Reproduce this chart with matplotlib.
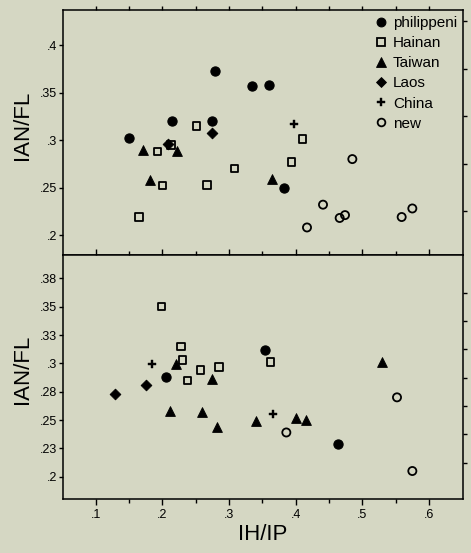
import matplotlib
matplotlib.use("Agg")
import matplotlib.pyplot as plt
from matplotlib.lines import Line2D

plt.rcParams['font.family'] = ['Liberation Sans', 'DejaVu Sans']

BG = '#d5d7c3'

# ---------------- data ----------------
groups = ['philippeni', 'Hainan', 'Taiwan', 'Laos', 'China', 'new']

# top panel
top_phil_x = [0.150, 0.214, 0.279, 0.274, 0.335, 0.360, 0.382]
top_phil_y = [0.302, 0.320, 0.373, 0.320, 0.357, 0.358, 0.250]
top_hain_x = [0.165, 0.193, 0.200, 0.213, 0.251, 0.267, 0.308, 0.394, 0.410]
top_hain_y = [0.219, 0.288, 0.252, 0.295, 0.315, 0.253, 0.270, 0.277, 0.301]
top_taiw_x = [0.171, 0.181, 0.222, 0.365]
top_taiw_y = [0.290, 0.258, 0.289, 0.259]
top_laos_x = [0.209, 0.274]
top_laos_y = [0.296, 0.307]
top_chin_x = [0.398]
top_chin_y = [0.317]
top_new_x = [0.417, 0.441, 0.466, 0.474, 0.485, 0.559, 0.575]
top_new_y = [0.208, 0.232, 0.218, 0.221, 0.280, 0.219, 0.228]

# bottom panel
bot_phil_x = [0.206, 0.354, 0.464]
bot_phil_y = [0.288, 0.312, 0.229]
bot_hain_x = [0.199, 0.228, 0.230, 0.238, 0.257, 0.285, 0.362]
bot_hain_y = [0.350, 0.315, 0.303, 0.285, 0.294, 0.297, 0.301]
bot_taiw_x = [0.220, 0.211, 0.260, 0.275, 0.282, 0.341, 0.401, 0.416, 0.529]
bot_taiw_y = [0.299, 0.258, 0.257, 0.286, 0.244, 0.249, 0.252, 0.250, 0.301]
bot_laos_x = [0.129, 0.176]
bot_laos_y = [0.273, 0.281]
bot_chin_x = [0.184, 0.366]
bot_chin_y = [0.299, 0.255]
bot_new_x = [0.386, 0.552, 0.575]
bot_new_y = [0.239, 0.270, 0.205]

x_ticks = [0.1, 0.2, 0.3, 0.4, 0.5, 0.6]
x_ticklabels = ['.1', '.2', '.3', '.4', '.5', '.6']
top_yticks = [0.2, 0.25, 0.3, 0.35, 0.4]
top_yticklabels = ['.2', '.25', '.3', '.35', '.4']
bot_yticks = [0.2, 0.225, 0.25, 0.275, 0.3, 0.325, 0.35, 0.375]
bot_yticklabels = ['.2', '.23', '.25', '.28', '.3', '.33', '.35', '.38']

# ---------------- styles ----------------
styles = {
    'philippeni': dict(marker='o', s=44, facecolors='black', edgecolors='black', linewidths=0.8),
    'Hainan': dict(marker='s', s=30, facecolors='none', edgecolors='black', linewidths=1.3),
    'Taiwan': dict(marker='^', s=50, facecolors='black', edgecolors='black', linewidths=0.6),
    'Laos': dict(marker='D', s=30, facecolors='black', edgecolors='black', linewidths=0.6),
    'China': dict(marker='P', s=38, facecolors='black', edgecolors='black', linewidths=0.3),
    'new': dict(marker='o', s=34, facecolors='none', edgecolors='black', linewidths=1.3),
}

fig = plt.figure(figsize=(4.71, 5.53), dpi=100, facecolor=BG)
W, H = 471, 553
ax1 = fig.add_axes([63 / W, 1 - 255 / H, 400 / W, 245 / H])
ax2 = fig.add_axes([63 / W, 1 - 499 / H, 400 / W, 244 / H])

top_data = {
    'philippeni': (top_phil_x, top_phil_y), 'Hainan': (top_hain_x, top_hain_y),
    'Taiwan': (top_taiw_x, top_taiw_y), 'Laos': (top_laos_x, top_laos_y),
    'China': (top_chin_x, top_chin_y), 'new': (top_new_x, top_new_y),
}
bot_data = {
    'philippeni': (bot_phil_x, bot_phil_y), 'Hainan': (bot_hain_x, bot_hain_y),
    'Taiwan': (bot_taiw_x, bot_taiw_y), 'Laos': (bot_laos_x, bot_laos_y),
    'China': (bot_chin_x, bot_chin_y), 'new': (bot_new_x, bot_new_y),
}

for ax, data in ((ax1, top_data), (ax2, bot_data)):
    ax.set_facecolor(BG)
    for g in groups:
        xs, ys = data[g]
        ax.scatter(xs, ys, zorder=3, **styles[g])
    ax.set_xlim(0.051, 0.651)
    for sp in ax.spines.values():
        sp.set_linewidth(1.1)
    ax.set_ylabel('IAN/FL', fontsize=16, labelpad=2)
    ax.yaxis.set_label_coords(-0.075, 0.53)

ax1.set_ylim(0.179, 0.437)
ax2.set_ylim(0.1803, 0.3956)

# top panel ticks
ax1.set_yticks(top_yticks)
ax1.set_yticklabels(top_yticklabels)
ax1.set_yticks([0.2 + 0.025 * i for i in range(10)], minor=True)
ax1.tick_params(axis='y', which='major', left=True, right=False, direction='out',
                length=3, width=1, labelsize=9, pad=1)
ax1.tick_params(axis='y', which='minor', left=False, right=True, direction='out',
                length=3, width=1)
ax1.set_xticks([0.1 + 0.05 * i for i in range(11)])
ax1.tick_params(axis='x', which='major', bottom=False, top=True, direction='out',
                length=3, width=1, labelbottom=False)

# bottom panel ticks
ax2.set_yticks(bot_yticks)
ax2.set_yticklabels(bot_yticklabels)
ax2.set_yticks([0.2 + 0.0125 * i for i in range(15)], minor=True)
ax2.tick_params(axis='y', which='major', left=True, right=False, direction='out',
                length=3, width=1, labelsize=9, pad=1)
ax2.tick_params(axis='y', which='minor', left=False, right=True, direction='out',
                length=3, width=1)
ax2.set_xticks(x_ticks)
ax2.set_xticklabels(x_ticklabels)
ax2.set_xticks([0.15 + 0.1 * i for i in range(5)], minor=True)
ax2.tick_params(axis='x', which='major', bottom=True, top=True, direction='out',
                length=4, width=1, labelsize=9, pad=3)
ax2.tick_params(axis='x', which='minor', bottom=True, top=True, direction='out',
                length=3, width=1)
ax2.set_xlabel('IH/IP', fontsize=16, labelpad=2)

# legend
handles = []
for g in groups:
    st = styles[g]
    handles.append(Line2D([], [], linestyle='none', marker=st['marker'],
                          markersize=(st['s'] ** 0.5) * 0.95,
                          markerfacecolor=st['facecolors'],
                          markeredgecolor='black', markeredgewidth=st['linewidths'],
                          label=g))
ax1.legend(handles=handles, loc='upper right', frameon=False, fontsize=11,
           handlelength=0.6, handletextpad=0.45, labelspacing=0.4,
           borderaxespad=0.3, borderpad=0.1)

fig.savefig('out.png', dpi=100, facecolor=BG)
